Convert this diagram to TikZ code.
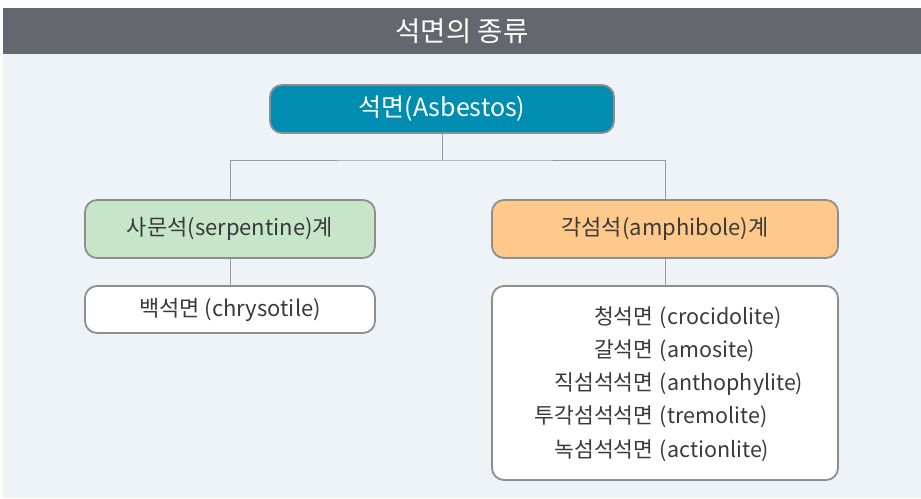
\documentclass[tikz,border=0pt]{standalone}
\usepackage{fontspec}
\setmainfont{Noto Sans CJK KR}
\definecolor{hdr}{HTML}{65676E}
\definecolor{bg}{HTML}{EEF3F7}
\definecolor{teal}{HTML}{008DB2}
\definecolor{grn}{HTML}{C6E5C9}
\definecolor{org}{HTML}{FFC98B}
\definecolor{bd}{HTML}{8E8E8E}
\definecolor{txt}{HTML}{3A3A3A}
\definecolor{ln}{HTML}{9A9A9A}
\begin{document}
\begin{tikzpicture}[x=1pt,y=-1pt,
  box/.style={draw=bd,line width=1.8pt,rounded corners=12pt,inner sep=0pt},
  lbl/.style={font=\fontsize{22}{26}\selectfont,text=txt},
  conn/.style={draw=ln,line width=1pt}]
\useasboundingbox (0,0) rectangle (921,498);
\fill[white] (0,0) rectangle (921,498);
\fill[bg] (3,54) rectangle (921,498);
\fill[hdr] (3,8) rectangle (921,54);
\node[text=white,font=\fontsize{27.5}{32}\selectfont] (title) at (462,31) {석면의 종류};
% boxes
\node[box,fill=teal,minimum width=344pt,minimum height=48pt,text=white,font=\fontsize{25}{30}\selectfont] (root) at (442,109) {석면(Asbestos)};
\node[box,fill=grn,minimum width=290pt,minimum height=58pt,lbl] (serp) at (230,229) {사문석(serpentine)계};
\node[box,fill=org,minimum width=346pt,minimum height=58pt,lbl] (amph) at (665,229) {각섬석(amphibole)계};
\node[box,fill=white,minimum width=290pt,minimum height=47pt,lbl] (chry) at (230,309.5) {백석면 (chrysotile)};
\node[box,fill=white,minimum width=346pt,minimum height=194pt,lbl] (amlist) at (665,383) {};
\node[lbl,font=\fontsize{21.5}{33.2}\selectfont,inner sep=0pt] (amtext) at (669,384) {%
\begin{tabular}{@{}r@{\hspace{0.3em}}l@{}}
청석면 & (crocidolite)\\
갈석면 & (amosite)\\
직섬석석면 & (anthophylite)\\
투각섬석석면 & (tremolite)\\
녹섬석석면 & (actionlite)
\end{tabular}};
% connectors
\coordinate (jn) at (root.south |- 0,160);
\draw[conn] (root.south) -- (jn);
\draw[conn] (serp.north) |- (jn) -| (amph.north);
\draw[conn] (serp.south) -- (chry.north);
\draw[conn] (amph.south) -- (amlist.north);
\end{tikzpicture}
\end{document}
